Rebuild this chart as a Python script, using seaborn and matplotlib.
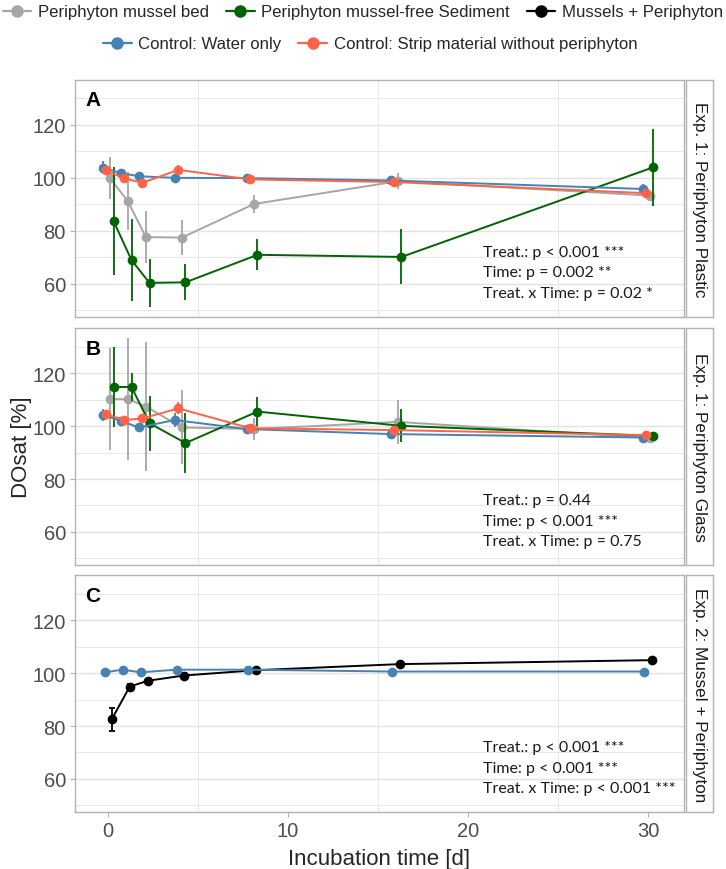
import pandas as pd
import matplotlib
matplotlib.use("Agg")
import matplotlib.pyplot as plt
from matplotlib.lines import Line2D
import seaborn as sns

# waktu inkubasi (hari)
times = [0, 1, 2, 4, 8, 16, 30]

lab_bed = "Periphyton mussel bed"
lab_free = "Periphyton mussel-free Sediment"
lab_mus = "Mussels + Periphyton"
lab_water = "Control: Water only"
lab_strip = "Control: Strip material without periphyton"

colors = {lab_bed: "#A6A6A6", lab_free: "#006400", lab_mus: "#000000",
          lab_water: "#4682B4", lab_strip: "#FF6347"}

# Panel A: Exp. 1 Periphyton Plastic (mean, SE)
a_bed = [99.9, 91.1, 77.6, 77.4, 90.1, 98.7, 93.3]
a_bed_se = [8.0, 11.0, 9.8, 6.5, 3.3, 3.0, 1.5]
a_free = [83.7, 68.9, 60.3, 60.5, 70.9, 70.1, 104.0]
a_free_se = [20.3, 15.5, 9.1, 6.8, 5.8, 10.4, 14.6]
a_water = [103.9, 101.8, 100.6, 100.0, 99.9, 99.0, 95.8]
a_water_se = [2.5, 1.5, 0.8, 0.8, 0.8, 1.0, 1.8]
a_strip = [102.8, 99.8, 98.1, 103.0, 99.4, 98.4, 94.2]
a_strip_se = [1.5, 1.2, 0.8, 1.7, 0.8, 1.8, 1.2]

# Panel B: Exp. 1 Periphyton Glass
b_bed = [110.2, 110.2, 107.4, 99.5, 98.9, 101.6, 95.5]
b_bed_se = [19.3, 23.0, 24.5, 14.0, 4.0, 8.2, 1.5]
b_free = [114.8, 114.8, 101.1, 93.6, 105.5, 100.1, 96.3]
b_free_se = [15.0, 5.4, 10.4, 11.3, 5.5, 6.2, 1.0]
b_water = [104.3, 102.0, 99.5, 102.3, 98.9, 97.0, 95.7]
b_water_se = [2.2, 1.2, 1.0, 2.5, 1.0, 2.0, 1.5]
b_strip = [104.5, 102.3, 102.9, 106.7, 99.2, 98.5, 96.6]
b_strip_se = [1.5, 1.0, 1.0, 2.3, 1.0, 1.5, 1.2]

# Panel C: Exp. 2 Mussel + Periphyton
c_water = [100.3, 101.3, 100.3, 101.3, 101.3, 100.6, 100.6]
c_water_se = [0.5, 0.5, 0.5, 0.5, 0.5, 0.5, 0.5]
c_mus = [82.5, 94.9, 97.1, 99.1, 101.1, 103.4, 104.9]
c_mus_se = [4.2, 1.0, 0.8, 0.8, 0.6, 0.6, 0.6]

strip_labels = ["Exp. 1: Periphyton Plastic", "Exp. 1: Periphyton Glass",
                "Exp. 2: Mussel + Periphyton"]
letters = ["A", "B", "C"]
stats_text = [
    ["Treat.: p < 0.001 ***", "Time: p = 0.002 **", "Treat. x Time: p = 0.02 *"],
    ["Treat.: p = 0.44", "Time: p < 0.001 ***", "Treat. x Time: p = 0.75"],
    ["Treat.: p < 0.001 ***", "Time: p < 0.001 ***", "Treat. x Time: p < 0.001 ***"],
]

panels = [
    [(lab_bed, a_bed, a_bed_se), (lab_free, a_free, a_free_se),
     (lab_water, a_water, a_water_se), (lab_strip, a_strip, a_strip_se)],
    [(lab_bed, b_bed, b_bed_se), (lab_free, b_free, b_free_se),
     (lab_water, b_water, b_water_se), (lab_strip, b_strip, b_strip_se)],
    [(lab_mus, c_mus, c_mus_se), (lab_water, c_water, c_water_se)],
]

# posisi dodge per kelompok
dodge4 = {lab_water: -0.3, lab_strip: -0.1, lab_bed: 0.1, lab_free: 0.3}
dodge2 = {lab_water: -0.2, lab_mus: 0.2}

rows = []
for p, groups in enumerate(panels):
    dodge = dodge4 if len(groups) == 4 else dodge2
    for lab, vals, ses in groups:
        for t, v, s in zip(times, vals, ses):
            rows.append({"panel": p, "treatment": lab, "time": t,
                         "x": t + dodge[lab], "DOsat": v, "se": s})
df = pd.DataFrame(rows)

sns.set_theme(style="white")
plt.rcParams['font.family'] = ['Liberation Sans', 'DejaVu Sans']

fig = plt.figure(figsize=(7.26, 8.7), dpi=100)

left = 75 / 726
width = (684 - 75) / 726
height = 237.3 / 870
bottoms = [0.6345, 0.3491, 0.0652]
edge = "#B3B3B3"
gridc = "#E3E3E3"

for p in range(3):
    ax = fig.add_axes([left, bottoms[p], width, height])
    sub = df[df["panel"] == p]
    cap = 2 if p == 2 else 0
    for lab, _, _ in panels[p]:
        g = sub[sub["treatment"] == lab].sort_values("x")
        ax.errorbar(g["x"], g["DOsat"], yerr=g["se"], fmt="none",
                    ecolor=colors[lab], elinewidth=1.3, capsize=cap, capthick=1.3)
        sns.lineplot(data=g, x="x", y="DOsat", color=colors[lab], marker="o",
                     markersize=7, markeredgewidth=0, linewidth=1.4,
                     estimator=None, sort=False, ax=ax)

    ax.set_xlim(-1.84, 32.0)
    ax.set_ylim(47.4, 137.1)
    ax.set_yticks([60, 80, 100, 120])
    ax.set_yticks([50, 70, 90, 110, 130], minor=True)
    ax.set_xticks([0, 10, 20, 30])
    ax.set_xticks([5, 15, 25], minor=True)
    ax.grid(which="major", axis="y", color=gridc, linewidth=1.0)
    ax.grid(which="minor", axis="both", color=gridc, linewidth=0.6)
    ax.set_axisbelow(True)
    ax.set_xlabel("")
    ax.set_ylabel("")
    for sp in ax.spines.values():
        sp.set_color(edge)
        sp.set_linewidth(1.0)
    ax.tick_params(which="minor", length=0)
    ax.tick_params(axis="y", which="major", left=True, length=3.5, width=0.8,
                   color=edge, labelsize=14.5, labelcolor="#4D4D4D", pad=3)
    if p == 2:
        ax.tick_params(axis="x", which="major", bottom=True, length=3.5, width=0.8,
                       color=edge, labelsize=14.5, labelcolor="#4D4D4D", pad=3)
    else:
        ax.tick_params(axis="x", which="major", bottom=False, labelbottom=False)

    ax.text(0.017, 0.955, letters[p], transform=ax.transAxes, fontsize=15,
            fontweight="bold", ha="left", va="top", color="black")
    for k, ys in enumerate([0.275, 0.188, 0.101]):
        ax.text(0.67, ys, stats_text[p][k], transform=ax.transAxes,
                fontsize=11.5, family=["Lato", "DejaVu Sans"], ha="left",
                va="center", color="#1A1A1A")

    # strip kanan
    sax = fig.add_axes([686 / 726, bottoms[p], 27 / 726, height])
    sax.set_facecolor("white")
    sax.set_xticks([])
    sax.set_yticks([])
    for sp in sax.spines.values():
        sp.set_color(edge)
        sp.set_linewidth(1.0)
    sax.text(0.5, 0.5, strip_labels[p], rotation=-90, ha="center", va="center",
             fontsize=12.3, color="#1A1A1A", transform=sax.transAxes)

fig.text(22 / 726, 0.486, "DOsat [%]", rotation=90, ha="center", va="center",
         fontsize=16)
fig.text(0.5227, 0.006, "Incubation time [d]", ha="center", va="baseline",
         fontsize=16)

# legenda dua baris di atas
def handle(lab):
    return Line2D([0], [0], color=colors[lab], marker="o", markersize=9,
                  markeredgewidth=0, linewidth=1.6)

row1 = [lab_bed, lab_free, lab_mus]
row2 = [lab_water, lab_strip]
fig.legend([handle(l) for l in row1], row1, loc="center",
           bbox_to_anchor=(0.5, 1 - 13 / 870), ncol=3, frameon=False,
           fontsize=12.1, handlelength=1.7, handletextpad=0.4,
           columnspacing=1.0, borderpad=0, borderaxespad=0)
fig.legend([handle(l) for l in row2], row2, loc="center",
           bbox_to_anchor=(0.51, 1 - 45 / 870), ncol=2, frameon=False,
           fontsize=12.1, handlelength=1.7, handletextpad=0.4,
           columnspacing=1.0, borderpad=0, borderaxespad=0)

plt.savefig("out.png", dpi=100)
